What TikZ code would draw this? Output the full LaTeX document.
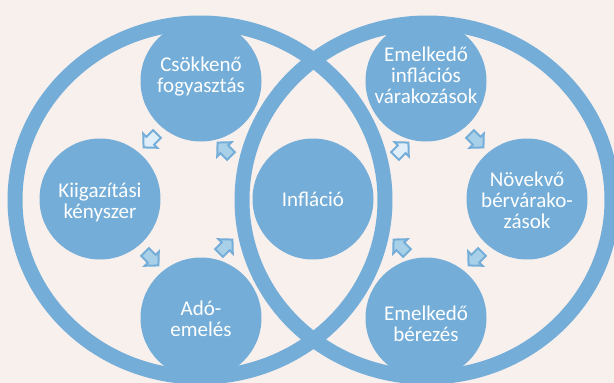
\documentclass[tikz,border=0pt]{standalone}
\usepackage{fontspec}
\setmainfont{Carlito}
\definecolor{ringblue}{RGB}{116,174,216}
\definecolor{paper}{RGB}{248,240,237}
\definecolor{palefill}{RGB}{223,238,248}
\definecolor{midfill}{RGB}{168,208,232}
\tikzset{
  ring/.style={draw=ringblue, line width=15pt},
  bubbletext/.style={text=white, align=center, inner sep=0pt,
    font=\fontsize{21}{21}\selectfont},
  arrowbox/.style={draw=ringblue, line width=2pt, line join=miter}
}
\newcommand{\bubble}[5]{%
\fill[ringblue] (#1,#2) circle (60.5pt);
\node[bubbletext] (#4) at (#1,#3) {#5};
}
\newcommand{\cyclearrow}[4]{%
\draw[arrowbox, fill=#4, shift={(#1,#2)}, rotate=#3]
  (-8.5,-5.5) -- (1,-5.5) -- (1,-10) -- (10.5,0) -- (1,10) -- (1,5.5) -- (-8.5,5.5) -- cycle;
}
\begin{document}
\begin{tikzpicture}[x=1pt,y=-1pt]

\useasboundingbox (0,0) rectangle (614,383);
\fill[paper] (0,0) rectangle (614,383);
\clip (0,0) rectangle (614,383);

% the two big rings
\draw[ring] (200,200) ellipse (185 and 177);
\draw[ring] (427,200) ellipse (185 and 177);

\bubble{201}{81}{77}{fogy}{Csökkenő\\fogyasztás}
\bubble{100}{199}{202}{kiig}{Kiigazítási\\kényszer}
\bubble{201}{318}{319}{ado}{Adó-\\emelés}
\bubble{313}{199}{199}{infl}{Infláció}
\bubble{426}{81}{75}{varak}{Emelkedő\\inflációs\\várakozások}
\bubble{527}{199}{200}{berv}{Növekvő\\bérvárako-\\zások}
\bubble{426}{318}{324}{berez}{Emelkedő\\bérezés}

% left cycle
\cyclearrow{225}{150}{135}{midfill}
\cyclearrow{151}{140}{225}{palefill}
\cyclearrow{151}{258}{-45}{midfill}
\cyclearrow{225}{247}{45}{midfill}

% right cycle
\cyclearrow{401}{150}{45}{palefill}
\cyclearrow{476}{140}{-45}{midfill}
\cyclearrow{476}{258}{225}{midfill}
\cyclearrow{401}{247}{135}{midfill}

\end{tikzpicture}
\end{document}
